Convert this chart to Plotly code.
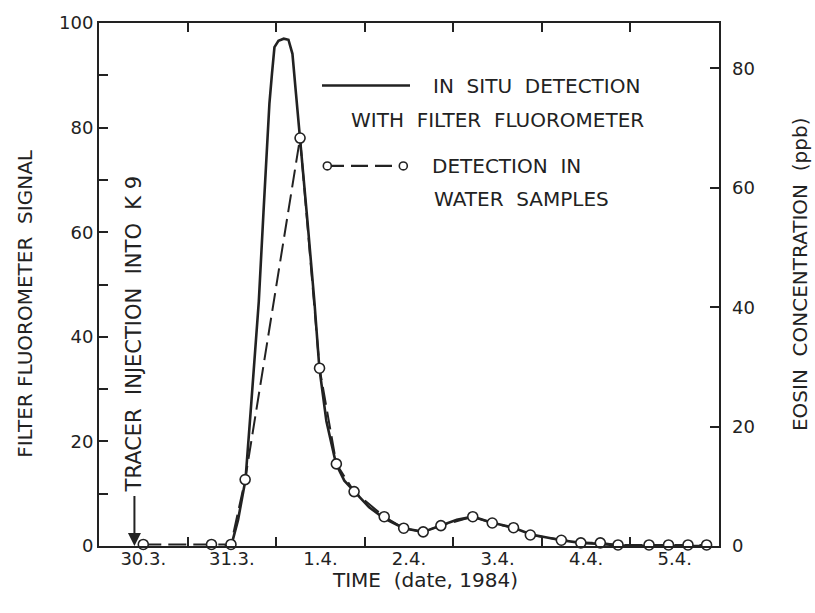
import plotly.graph_objects as go

# ---- data (x in days since 30.3.1984 00:00, y in filter fluorometer signal units)
sample_day = [0.50, 1.27, 1.49, 1.65, 2.27, 2.49, 2.68, 2.88, 3.22, 3.44, 3.66, 3.86,
              4.22, 4.44, 4.68, 4.87, 5.22, 5.44, 5.66, 5.86, 6.21, 6.43, 6.65, 6.86]
sample_signal = [0.3, 0.3, 0.3, 12.7, 78.0, 34.0, 15.7, 10.4, 5.6, 3.4, 2.7, 3.9,
                 5.6, 4.4, 3.5, 2.1, 1.1, 0.6, 0.6, 0.2, 0.2, 0.2, 0.2, 0.2]

insitu_day = [1.42, 1.50, 1.57, 1.654, 1.721, 1.76, 1.804, 1.857, 1.905, 1.924, 1.953,
              1.981, 2.026, 2.086, 2.139, 2.184, 2.224, 2.271, 2.353, 2.432, 2.488,
              2.567, 2.676, 2.77, 2.87, 3.05, 3.22, 3.44, 3.66, 3.86, 4.04, 4.22,
              4.43, 4.68, 4.88, 5.22, 5.44, 5.66, 5.87, 6.21, 6.86]
insitu_signal = [0.0, 0.5, 5.0, 12.7, 27.7, 37.2, 46.7, 63.8, 80.8, 84.6, 90.3,
                 95.4, 96.6, 97.0, 96.8, 94.1, 86.5, 78.0, 62.2, 46.7, 34.0,
                 23.9, 15.7, 12.5, 10.6, 7.4, 5.3, 3.4, 2.7, 3.9, 5.0, 5.6,
                 4.5, 3.5, 2.2, 1.1, 0.6, 0.4, 0.1, 0.0, 0.0]

day_labels = ["30.3.", "31.3.", "1.4.", "2.4.", "3.4.", "4.4.", "5.4."]
day_label_pos = [0.5, 1.5, 2.5, 3.5, 4.5, 5.5, 6.5]
day_boundaries = [1, 2, 3, 4, 5, 6]
left_tickvals = [0, 10, 20, 30, 40, 50, 60, 70, 80, 90, 100]
left_ticktext = ["0", "", "20", "", "40", "", "60", "", "80", "", "100"]
right_ticks = [0, 20, 40, 60, 80]
injection_day = 0.4

INK = "#222222"
FONT = "DejaVu Sans"
W, H = 815, 613
L, R, T, B = 99, 96, 19, 67
PW, PH = W - L - R, H - T - B


def px(xp):
    return (xp - L) / PW


def py(yp):
    return (H - B - yp) / PH


fig = go.Figure()

fig.add_trace(go.Scatter(
    x=insitu_day, y=insitu_signal, mode="lines",
    line=dict(color=INK, width=2.6), hoverinfo="skip", showlegend=False,
    cliponaxis=False))

fig.add_trace(go.Scatter(
    x=sample_day, y=sample_signal, mode="lines+markers",
    line=dict(color=INK, width=2.0, dash="18px,7px"),
    marker=dict(symbol="circle", size=10, color="white",
                line=dict(color=INK, width=1.6)),
    hoverinfo="skip", showlegend=False, cliponaxis=False))

# helper trace registering the label x axis and right y axis
fig.add_trace(go.Scatter(x=[0], y=[0], xaxis="x2", yaxis="y2", mode="markers",
                         marker=dict(opacity=0), hoverinfo="skip", showlegend=False))

axis_font = dict(family=FONT, size=18, color=INK)

fig.update_layout(
    width=W, height=H,
    margin=dict(l=L, r=R, t=T, b=B, pad=0),
    paper_bgcolor="white", plot_bgcolor="white",
    font=dict(family=FONT, size=18, color=INK),
    xaxis=dict(range=[0, 7], showgrid=False, zeroline=False,
               showline=True, linecolor=INK, linewidth=2, mirror="allticks",
               tickmode="array", tickvals=day_boundaries, showticklabels=False,
               ticks="inside", ticklen=9, tickwidth=2, tickcolor=INK),
    xaxis2=dict(range=[0, 7], overlaying="x", side="bottom", anchor="y",
                showgrid=False, zeroline=False, showline=False,
                tickmode="array", tickvals=day_label_pos, ticktext=day_labels,
                ticks="", tickfont=axis_font),
    yaxis=dict(range=[0, 100], showgrid=False, zeroline=False,
               showline=True, linecolor=INK, linewidth=2, mirror=True,
               tickmode="array", tickvals=left_tickvals, ticktext=left_ticktext,
               ticks="inside", ticklen=9, tickwidth=2, tickcolor=INK,
               tickfont=axis_font),
    yaxis2=dict(range=[0, 87.6], overlaying="y", side="right", anchor="x",
                showgrid=False, zeroline=False, showline=False,
                tickmode="array", tickvals=right_ticks,
                ticks="inside", ticklen=9, tickwidth=2, tickcolor=INK,
                ticklabelstandoff=12, tickfont=axis_font),
)

ann = []
title_font = dict(family=FONT, size=20, color=INK)
ann.append(dict(text="FILTER FLUOROMETER  SIGNAL", x=px(25), y=py(302), xref="paper",
                yref="paper", xanchor="center", yanchor="middle", textangle=-90,
                showarrow=False, font=title_font))
ann.append(dict(text="EOSIN  CONCENTRATION  (ppb)", x=px(800), y=py(272), xref="paper",
                yref="paper", xanchor="center", yanchor="middle", textangle=-90,
                showarrow=False, font=title_font))
ann.append(dict(text="TIME  (date, 1984)", x=px(425), y=py(580), xref="paper",
                yref="paper", xanchor="center", yanchor="middle", showarrow=False,
                font=title_font))
ann.append(dict(text="TRACER  INJECTION  INTO  K 9", x=injection_day, y=0,
                xref="x", yref="y", textangle=-90, showarrow=True,
                ax=0, ay=-212, arrowhead=2, arrowsize=1.3, arrowwidth=2,
                arrowcolor=INK, standoff=0, startstandoff=2,
                font=dict(family=FONT, size=21, color=INK)))
leg_font = dict(family=FONT, size=20, color=INK)
for txt, xx, yy in [("IN  SITU  DETECTION", 431, 82),
                    ("WITH  FILTER  FLUOROMETER", 349, 117),
                    ("DETECTION  IN", 430, 163),
                    ("WATER  SAMPLES", 432, 196)]:
    ann.append(dict(text=txt, x=px(xx), y=py(yy), xref="paper", yref="paper",
                    xanchor="left", yanchor="middle", showarrow=False, font=leg_font))
fig.update_layout(annotations=ann)

shapes = [
    dict(type="line", xref="paper", yref="paper", x0=px(322), x1=px(410),
         y0=py(82), y1=py(82), line=dict(color=INK, width=2.6)),
    dict(type="line", xref="paper", yref="paper", x0=px(327), x1=px(403),
         y0=py(163), y1=py(163), line=dict(color=INK, width=2.2, dash="17px,7px")),
]
for cx in (327.3, 403.3):
    shapes.append(dict(type="circle", xref="paper", yref="paper",
                       x0=px(cx - 4), x1=px(cx + 4), y0=py(163 + 4), y1=py(163 - 4),
                       fillcolor="white", line=dict(color=INK, width=1.6)))
fig.update_layout(shapes=shapes)

fig.write_html("out.html")
